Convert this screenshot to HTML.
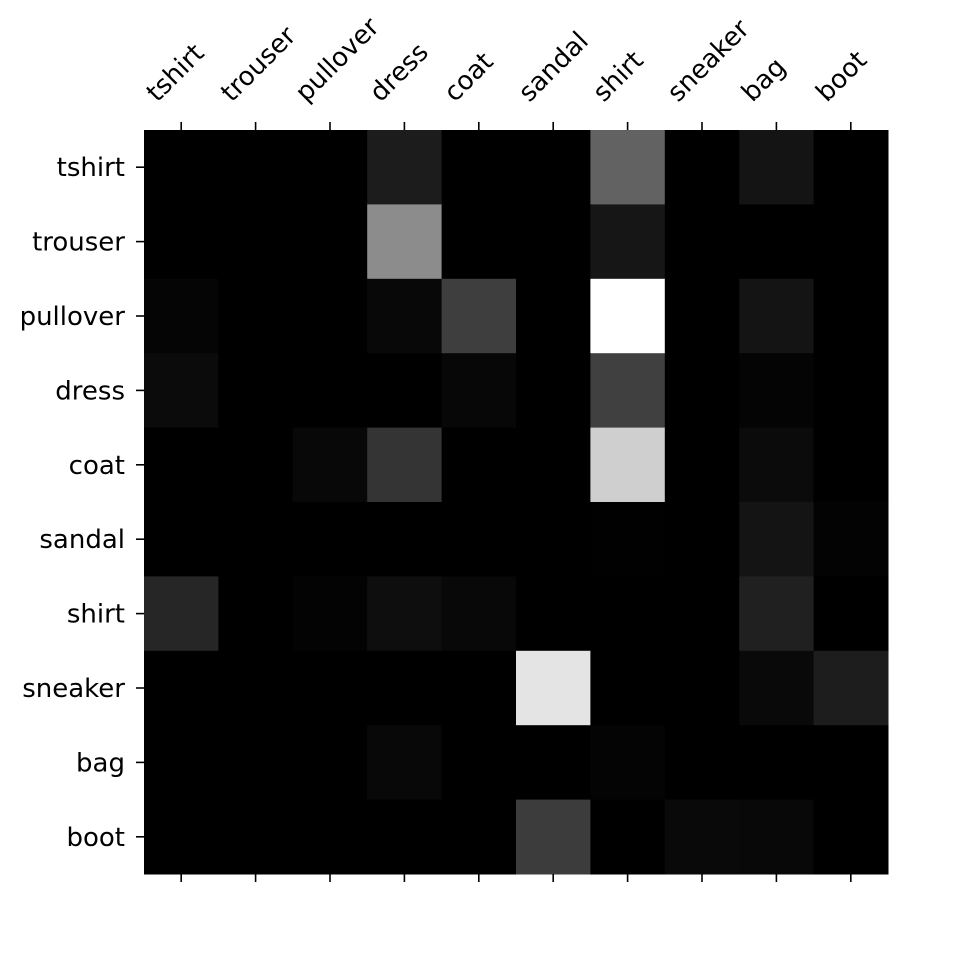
<!DOCTYPE html>
<html><head><meta charset="utf-8"><style>body{margin:0;background:#fff}svg{display:block}text{font-family:"DejaVu Sans","Liberation Sans",sans-serif;font-size:26px;fill:#000}</style></head>
<body>
<svg id="chart" width="960" height="960" viewBox="0 0 960 960" xmlns="http://www.w3.org/2000/svg"></svg>
<script>
const categories = ["tshirt","trouser","pullover","dress","coat","sandal","shirt","sneaker","bag","boot"];
const row0 = [0,0,0,28,0,0,98,0,20,0];
const row1 = [0,0,0,140,0,0,22,0,0,0];
const row2 = [5,0,0,8,62,0,255,0,20,0];
const row3 = [11,0,0,0,7,0,64,0,4,0];
const row4 = [0,0,8,52,0,0,207,0,11,0];
const row5 = [0,0,0,0,0,0,1,0,20,3];
const row6 = [38,0,3,14,8,0,0,0,32,0];
const row7 = [0,0,0,0,0,228,0,0,9,29];
const row8 = [0,0,0,8,0,0,4,0,0,0];
const row9 = [0,0,0,0,0,60,0,9,8,0];
const matrix = [row0,row1,row2,row3,row4,row5,row6,row7,row8,row9];

const NS="http://www.w3.org/2000/svg";
const svg=document.getElementById('chart');
const L=144,T=130,S=744,n=categories.length,cw=S/n;
const vmax=Math.max(...matrix.flat()), vmin=Math.min(...matrix.flat());
const xs=i=>L+i*cw, ys=j=>T+j*cw;
function mk(t,a){const e=document.createElementNS(NS,t);for(const k in a)e.setAttribute(k,a[k]);svg.appendChild(e);return e;}
const bg=mk('rect',{x:L,y:T,width:S,height:S,fill:'#000'});


matrix.forEach((row,j)=>row.forEach((v,i)=>{
  const g=Math.round(255*(v-vmin)/(vmax-vmin||1));
  const r=mk('rect',{x:xs(i),y:ys(j),width:cw+0.5,height:cw+0.5,fill:`rgb(${g},${g},${g})`});
  
  
}));
categories.forEach((c,i)=>{
  const cx=xs(i)+cw/2, cy=ys(i)+cw/2;
  const t1=mk('line',{x1:cx,y1:T,x2:cx,y2:T-8,stroke:'#000','stroke-width':1.6});
  
  
  const t2=mk('line',{x1:cx,y1:T+S,x2:cx,y2:T+S+8,stroke:'#000','stroke-width':1.6});
  
  
  const t3=mk('line',{x1:L,y1:cy,x2:L-8,y2:cy,stroke:'#000','stroke-width':1.6});
  
  
  const xl=mk('text',{x:cx-24,y:103,transform:`rotate(-45 ${cx-24} 103)`});
  xl.textContent=c;
  
  
  const yl=mk('text',{x:125,y:cy+9,'text-anchor':'end'});
  yl.textContent=c;
  
  
});
</script>
</body></html>
